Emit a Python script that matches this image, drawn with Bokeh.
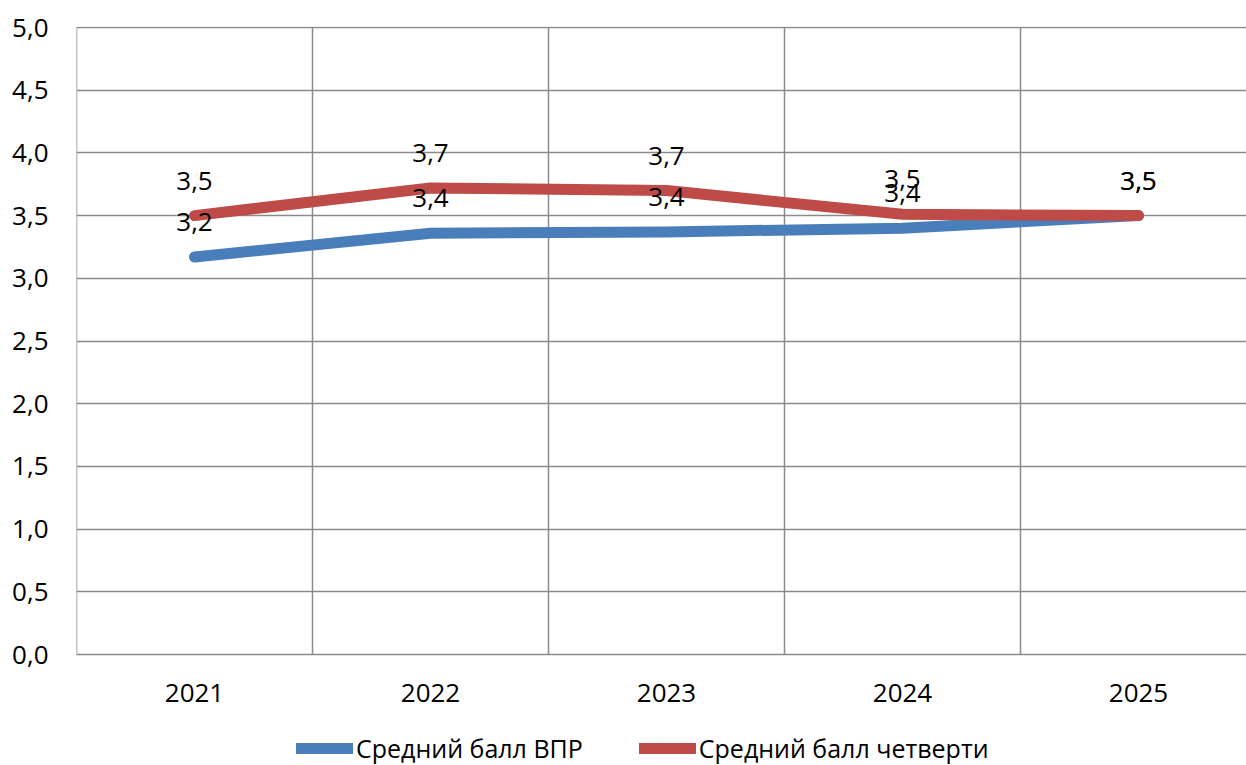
from bokeh.plotting import figure
from bokeh.models import (ColumnDataSource, LabelSet, Legend, LegendItem, FixedTicker,
                          CustomJSTickFormatter, Range1d, Grid)
from bokeh.core.properties import value
from bokeh.embed import file_html
from bokeh.resources import INLINE

years = ["2021", "2022", "2023", "2024", "2025"]
vpr = [3.17, 3.36, 3.37, 3.40, 3.50]
quarter = [3.50, 3.72, 3.70, 3.51, 3.50]
series_names = ["Средний балл ВПР", "Средний балл четверти"]
y_ticks = [0, 0.5, 1, 1.5, 2, 2.5, 3, 3.5, 4, 4.5, 5]
y_max = 5

BLUE = "#4A7EBB"
RED = "#BE4B48"
GRID = "#8A8A8A"
FONT = "Open Sans"

xs = list(range(1, len(years) + 1))
bounds = [i + 0.5 for i in range(0, len(years) + 1)]

def fmt(v):
    return f"{v:.1f}".replace(".", ",")

src_b = ColumnDataSource(dict(x=xs, y=vpr, lab=[fmt(v) for v in vpr]))
src_r = ColumnDataSource(dict(x=xs, y=quarter, lab=[fmt(v) for v in quarter]))
src_cat = ColumnDataSource(dict(x=xs, y=[0] * len(xs), lab=years))
src_vg = ColumnDataSource(dict(x=bounds, y0=[0] * len(bounds), y1=[y_max] * len(bounds)))

W, H = 1246, 765
left, top = 76, 26
plot_px = 627.0           # pixel height of the 0..5 value span
px_per_unit = plot_px / y_max
frame_w = W - left
frame_h = H - top
cat_w = 236
y_top = y_max + 1.0 / px_per_unit
y_bottom = y_top - frame_h / px_per_unit

p = figure(width=W, height=H,
           x_range=Range1d(0.5, 0.5 + frame_w / cat_w),
           y_range=Range1d(y_bottom, y_top),
           x_axis_location=None,
           output_backend="svg", toolbar_location=None,
           min_border_left=left, min_border_right=0, min_border_top=top, min_border_bottom=0)
p.outline_line_color = None
p.background_fill_color = "white"
p.border_fill_color = "white"

# remove default vertical grid
for r in list(p.center):
    if isinstance(r, Grid) and r.dimension == 0:
        r.grid_line_color = None
        r.visible = False

# horizontal grid (value lines)
p.ygrid.ticker = FixedTicker(ticks=y_ticks)
p.ygrid.grid_line_color = GRID
p.ygrid.grid_line_width = 1.5

# vertical category boundaries (stop at the value axis 0..5)
p.segment(x0="x", y0="y0", x1="x", y1="y1", source=src_vg,
          line_color=GRID, line_width=1.5)

# value axis
p.yaxis.ticker = FixedTicker(ticks=y_ticks)
p.yaxis.formatter = CustomJSTickFormatter(code="return tick.toFixed(1).replace('.', ',');")
p.yaxis.axis_line_color = None
p.yaxis.major_tick_line_color = None
p.yaxis.minor_tick_line_color = None
p.yaxis.major_tick_in = 0
p.yaxis.major_tick_out = 0
p.yaxis.major_label_text_font = FONT
p.yaxis.major_label_text_font_size = "26px"
p.yaxis.major_label_text_color = "#000000"
p.yaxis.major_label_standoff = 28

# series
lb = p.line("x", "y", source=src_b, line_color=BLUE, line_width=11,
            line_cap="round", line_join="round")
lr = p.line("x", "y", source=src_r, line_color=RED, line_width=11,
            line_cap="round", line_join="round")

# data labels
for src in (src_r, src_b):
    p.add_layout(LabelSet(x="x", y="y", text="lab", source=src, y_offset=35,
                          text_align="center", text_baseline="middle",
                          text_font=value(FONT), text_font_size=value("26px"),
                          text_color="#000000"))

# category labels
p.add_layout(LabelSet(x="x", y="y", text="lab", source=src_cat, y_offset=-38,
                      text_align="center", text_baseline="middle",
                      text_font=value(FONT), text_font_size=value("26px"),
                      text_color="#000000"))

legend = Legend(items=[LegendItem(label=series_names[0], renderers=[lb]),
                       LegendItem(label=series_names[1], renderers=[lr])],
                orientation="horizontal", location=(220, 0),
                glyph_width=57, glyph_height=20, label_standoff=3, spacing=56,
                border_line_color=None, background_fill_alpha=0,
                padding=0, margin=0,
                label_text_font=FONT, label_text_font_size="25px",
                label_text_color="#000000")
p.add_layout(legend, "center")

open("out.html", "w").write(file_html(p, INLINE))
